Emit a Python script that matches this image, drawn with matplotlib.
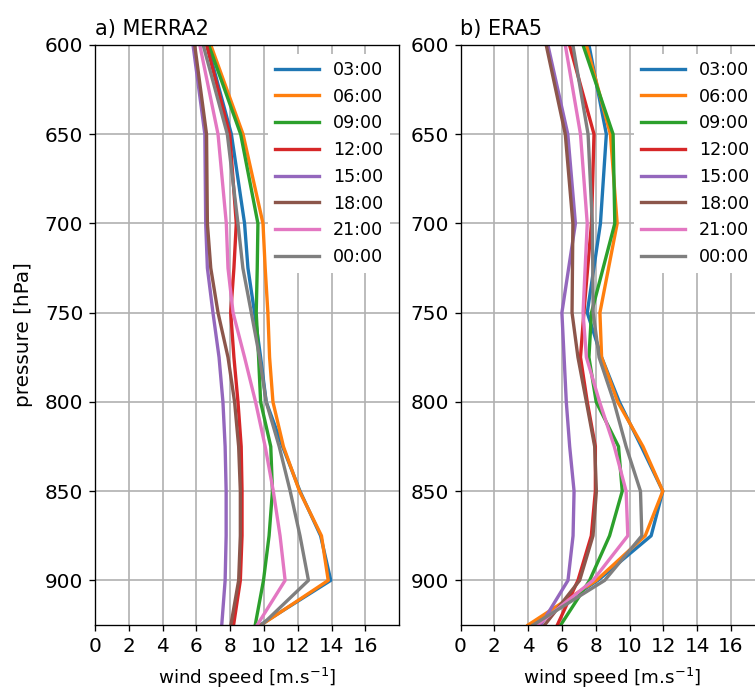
import numpy as np
import matplotlib
matplotlib.use("Agg")
import matplotlib.pyplot as plt

hours = ['03:00', '06:00', '09:00', '12:00', '15:00', '18:00', '21:00', '00:00']

# MERRA2 pressure levels [hPa] and wind speed profiles [m/s]
lev_merra = [600, 650, 700, 725, 750, 775, 800, 825, 850, 875, 900, 925]
merra = {
    '03:00': [6.65, 8.07, 8.85, 9.05, 9.44, 9.80, 10.13, 11.10, 12.13, 13.35, 13.95, 9.77],
    '06:00': [6.85, 8.76, 9.94, 10.07, 10.23, 10.33, 10.53, 11.15, 12.10, 13.40, 13.80, 9.83],
    '09:00': [6.73, 8.62, 9.64, 9.60, 9.54, 9.68, 9.80, 10.40, 10.50, 10.30, 9.97, 9.48],
    '12:00': [6.60, 7.97, 8.36, 8.22, 8.03, 8.22, 8.46, 8.65, 8.70, 8.70, 8.60, 8.20],
    '15:00': [5.80, 6.50, 6.55, 6.65, 6.98, 7.34, 7.57, 7.70, 7.76, 7.76, 7.70, 7.50],
    '18:00': [5.90, 6.60, 6.65, 6.85, 7.28, 7.87, 8.26, 8.50, 8.60, 8.60, 8.50, 8.04],
    '21:00': [6.20, 7.28, 7.77, 7.87, 8.17, 8.85, 9.50, 10.07, 10.55, 10.95, 11.25, 9.60],
    '00:00': [6.40, 7.83, 8.46, 8.75, 9.25, 9.74, 10.13, 10.90, 11.55, 12.13, 12.63, 9.87],
}

# ERA5 pressure levels [hPa] and wind speed profiles [m/s]
lev_era = [600, 650, 700, 750, 775, 800, 825, 850, 875, 900, 925]
era = {
    '03:00': [7.60, 8.63, 8.28, 7.50, 8.35, 9.40, 10.70, 11.97, 11.28, 8.13, 4.10],
    '06:00': [7.45, 8.87, 9.27, 8.25, 8.35, 9.30, 10.80, 11.97, 10.93, 8.04, 4.00],
    '09:00': [7.25, 9.03, 9.13, 7.75, 7.60, 8.03, 9.35, 9.57, 8.82, 7.64, 5.93],
    '12:00': [6.45, 7.90, 7.75, 7.30, 7.10, 7.50, 7.98, 7.98, 7.74, 6.95, 5.73],
    '15:00': [5.17, 6.35, 6.80, 6.00, 6.13, 6.26, 6.46, 6.72, 6.66, 6.36, 4.75],
    '18:00': [5.07, 6.20, 6.65, 6.60, 6.95, 7.45, 7.94, 8.04, 7.84, 7.05, 4.98],
    '21:00': [6.20, 7.10, 7.50, 7.25, 7.45, 8.23, 9.10, 9.80, 9.90, 7.84, 4.55],
    '00:00': [6.65, 7.55, 7.80, 7.85, 8.20, 9.08, 9.80, 10.65, 10.73, 8.53, 4.30],
}

W, H = 755, 692
fig = plt.figure(figsize=(W / 120, H / 120), dpi=120)
ax1 = fig.add_axes([95 / W, 67 / H, 304.2 / W, 580 / H])
ax2 = fig.add_axes([460.5 / W, 67 / H, 304.2 / W, 580 / H])

for ax, lev, data, title in [(ax1, lev_merra, merra, 'a) MERRA2'),
                             (ax2, lev_era, era, 'b) ERA5')]:
    for h in hours:
        ax.plot(data[h], lev, lw=2, label=h)
    ax.set_ylim(925, 600)
    ax.set_xlim(0, 18)
    ax.set_xticks(np.arange(0, 17, 2))
    ax.set_yticks(np.arange(600, 901, 50))
    ax.tick_params(labelsize=12)
    ax.grid(True, color='#b0b0b0', lw=1.0)
    ax.set_axisbelow(True)
    ax.set_title(title, loc='left', fontsize=12.5)
    ax.set_xlabel('wind speed [m.s$^{-1}$]', fontsize=11, labelpad=6)
    leg = ax.legend(loc='upper right', handlelength=2.5, framealpha=1, fontsize=10.5)
    leg.get_frame().set_edgecolor('none')

ax1.set_ylabel('pressure [hPa]', fontsize=12, labelpad=7)

fig.savefig('out.png', dpi=120)
